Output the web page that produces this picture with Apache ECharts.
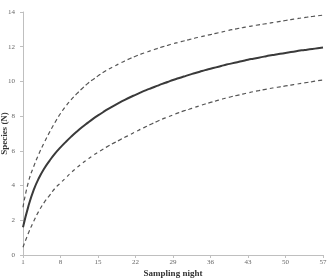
<!DOCTYPE html>
<html>
<head>
<meta charset="utf-8">
<script src="https://cdn.jsdelivr.net/npm/echarts@6/dist/echarts.min.js"></script>
<style>
html,body{margin:0;padding:0;background:#fff;}
#chart{width:328px;height:279px;}
</style>
</head>
<body>
<div id="chart"></div>
<script>
var nights = [];
for (var i = 1; i <= 57; i++) nights.push(String(i));

var yTicks = [0, 2, 4, 6, 8, 10, 12, 14];

var observed = [1.60, 2.80, 3.75, 4.45, 5.00, 5.45, 5.85, 6.20, 6.52, 6.82,
  7.10, 7.36, 7.60, 7.83, 8.04, 8.24, 8.43, 8.61, 8.78, 8.94,
  9.09, 9.23, 9.37, 9.50, 9.62, 9.74, 9.86, 9.97, 10.08, 10.18,
  10.28, 10.38, 10.47, 10.56, 10.65, 10.73, 10.81, 10.89, 10.97, 11.04,
  11.11, 11.18, 11.25, 11.31, 11.37, 11.43, 11.49, 11.54, 11.59, 11.64,
  11.69, 11.74, 11.79, 11.83, 11.87, 11.91, 11.95];

var upperCI = [2.75, 4.20, 5.10, 5.85, 6.50, 7.10, 7.65, 8.15, 8.58, 8.95,
  9.28, 9.58, 9.86, 10.10, 10.32, 10.53, 10.71, 10.87, 11.03, 11.18,
  11.32, 11.45, 11.57, 11.68, 11.79, 11.89, 11.99, 12.08, 12.17, 12.25,
  12.33, 12.41, 12.49, 12.56, 12.63, 12.70, 12.77, 12.84, 12.91, 12.98,
  13.04, 13.10, 13.16, 13.21, 13.26, 13.31, 13.36, 13.41, 13.46, 13.51,
  13.56, 13.61, 13.66, 13.70, 13.74, 13.78, 13.82];

var lowerCI = [0.45, 1.25, 1.95, 2.55, 3.05, 3.45, 3.85, 4.15, 4.45, 4.75,
  5.02, 5.27, 5.50, 5.72, 5.92, 6.11, 6.29, 6.46, 6.62, 6.78,
  6.93, 7.10, 7.25, 7.40, 7.55, 7.69, 7.83, 7.95, 8.07, 8.19,
  8.30, 8.40, 8.50, 8.60, 8.70, 8.79, 8.88, 8.97, 9.05, 9.13,
  9.20, 9.27, 9.34, 9.41, 9.47, 9.53, 9.59, 9.64, 9.69, 9.74,
  9.79, 9.84, 9.89, 9.94, 9.99, 10.04, 10.08];

var chart = echarts.init(document.getElementById('chart'), null, {renderer: 'canvas'});
var serif = 'Liberation Serif';
chart.setOption({
  animation: false,
  backgroundColor: '#ffffff',
  grid: {left: 23, right: 5, top: 12, bottom: 24, containLabel: false, outerBoundsMode: 'none'},
  xAxis: {
    type: 'category',
    data: nights,
    boundaryGap: false,
    name: 'Sampling night',
    nameLocation: 'middle',
    nameGap: 14,
    nameMoveOverlap: false,
    nameTextStyle: {fontFamily: serif, fontWeight: 'bold', fontSize: 9, color: '#333'},
    axisLine: {lineStyle: {color: '#bfbfbf', width: 1}},
    axisTick: {interval: 6, length: 3, lineStyle: {color: '#bfbfbf'}},
    axisLabel: {interval: 6, fontFamily: serif, fontSize: 7, color: '#666', margin: 4},
    splitLine: {show: false}
  },
  yAxis: {
    type: 'value',
    min: yTicks[0],
    max: yTicks[yTicks.length - 1],
    interval: 2,
    name: 'Species (N)',
    nameLocation: 'middle',
    nameGap: 14,
    nameRotate: 90,
    nameMoveOverlap: false,
    nameTextStyle: {fontFamily: serif, fontWeight: 'bold', fontSize: 9, color: '#333'},
    axisLine: {show: true, lineStyle: {color: '#bfbfbf', width: 1}},
    axisTick: {show: true, length: 3, lineStyle: {color: '#bfbfbf'}},
    axisLabel: {fontFamily: serif, fontSize: 7, color: '#666', margin: 8},
    splitLine: {show: false}
  },
  series: [
    {
      type: 'line', data: upperCI, symbol: 'none', smooth: true,
      lineStyle: {color: '#555', width: 1.2, type: [4, 3]}
    },
    {
      type: 'line', data: observed, symbol: 'none', smooth: true,
      lineStyle: {color: '#3a3a3a', width: 2}
    },
    {
      type: 'line', data: lowerCI, symbol: 'none', smooth: true,
      lineStyle: {color: '#555', width: 1.2, type: [4, 3]}
    }
  ]
});
</script>
</body>
</html>
